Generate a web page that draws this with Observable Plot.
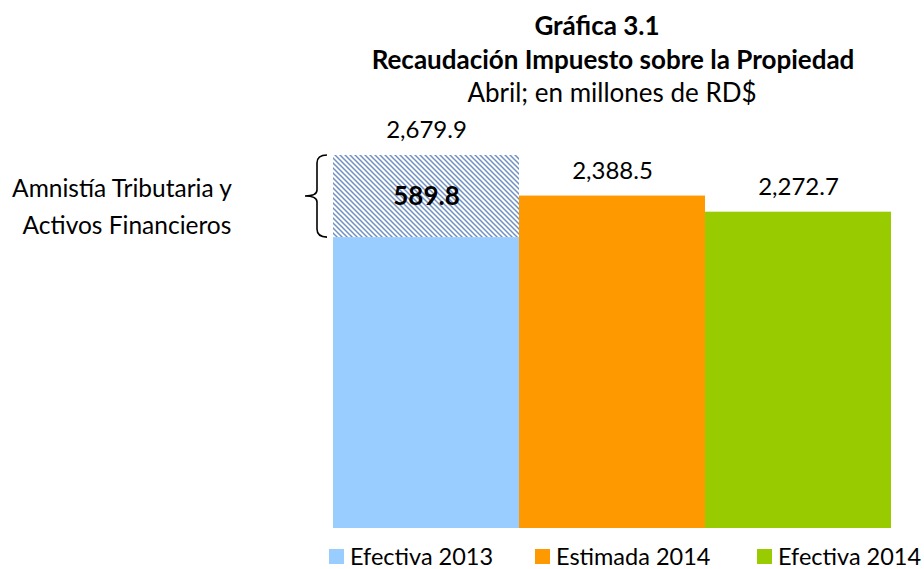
<!DOCTYPE html>
<html><head><meta charset="utf-8">
<script src="https://cdn.jsdelivr.net/npm/d3@7"></script>
<script src="https://cdn.jsdelivr.net/npm/@observablehq/plot@0.6"></script>
<style>
body{margin:0;background:#fff;font-family:Lato,"Noto Sans",sans-serif;color:#000;}
#root{position:relative;width:924px;height:569px;overflow:hidden;background:#fff;}
.t{position:absolute;width:0;white-space:nowrap;line-height:30px;z-index:2;}
.t > div{position:absolute;transform:translateX(-50%);}
#chart{position:absolute;left:0;top:100px;z-index:1;}
#legend{position:absolute;top:545px;left:0;width:924px;height:22px;font-size:23.5px;line-height:22px;z-index:2;}
.li{position:absolute;top:0;display:flex;align-items:center;height:22px;white-space:nowrap;}
.sw{width:15px;height:15px;margin-right:6px;flex:none;}
</style></head>
<body><div id="root">
<div class="t" style="top:10px;left:597px;"><div style="font-weight:bold;font-size:26px;">Gráfica 3.1</div></div>
<div class="t" style="top:44px;left:613px;"><div style="font-weight:bold;font-size:26px;">Recaudación Impuesto sobre la Propiedad</div></div>
<div class="t" style="top:77px;left:612px;"><div style="font-size:26px;">Abril; en millones de RD$</div></div>
<div id="chart"></div>
<div id="legend"></div>
</div>
<script>
const categories = ["Efectiva 2013", "Estimada 2014", "Efectiva 2014"];
const totals = [2679.9, 2388.5, 2272.7];
const amnistia = [589.8, 0, 0];
const colors = ["#99CCFF", "#FF9900", "#99CC00"];
const annotationLines = ["Amnistía Tributaria y", "Activos Financieros"];

const fmt = d3.format(",.1f");
const rows = categories.map((c, i) => ({cat: c, total: totals[i], extra: amnistia[i], base: totals[i] - amnistia[i]}));
const hatchRows = rows.filter(d => d.extra > 0);

const annotation = (index, scales, values, dims) => {
  const g = d3.create("svg:g");
  const r = hatchRows[0];
  const xl = scales.x(r.cat);
  const yT = scales.y(r.total), yB = scales.y(r.base);
  const ym = (yT + yB) / 2;
  const vx = xl - 16;
  g.append("path")
    .attr("fill", "none").attr("stroke", "#000").attr("stroke-width", 1.6)
    .attr("d", `M${xl-6},${yT} Q${vx},${yT} ${vx},${yT+8} L${vx},${ym-6} Q${vx},${ym} ${vx-12},${ym} Q${vx},${ym} ${vx},${ym+6} L${vx},${yB-8} Q${vx},${yB} ${xl-6},${yB}`);
  annotationLines.forEach((t, i) => {
    g.append("text").attr("x", xl - 211 + i * 5).attr("y", ym - 5 + i * 37)
      .attr("text-anchor", "middle").attr("dominant-baseline", "middle")
      .attr("font-size", 24.5).attr("fill", "#000").text(t);
  });
  return g.node();
};

const plot = Plot.plot({
  width: 924,
  height: 435,
  marginLeft: 333,
  marginRight: 33,
  marginTop: 55,
  marginBottom: 7,
  style: {fontFamily: "Lato, 'Noto Sans', sans-serif", background: "transparent", overflow: "visible"},
  x: {domain: categories, padding: 0, axis: null},
  y: {domain: [0, d3.max(totals)], axis: null},
  color: {domain: categories, range: colors},
  marks: [
    Plot.barY(rows, {x: "cat", y1: 0, y2: "base", fill: "cat"}),
    Plot.barY(hatchRows, {x: "cat", y1: "base", y2: "total", fill: "url(#hatch)"}),
    Plot.text(rows, {x: "cat", y: "total", text: d => fmt(d.total), dy: -25, fontSize: 24, fill: "#000"}),
    Plot.text(hatchRows, {x: "cat", y: d => (d.base + d.total) / 2, text: d => fmt(d.extra), fontSize: 26, fontWeight: "bold", fill: "#000"}),
    annotation
  ]
});

const defs = d3.select(plot).insert("defs", ":first-child");
const pat = defs.append("pattern").attr("id", "hatch").attr("patternUnits", "userSpaceOnUse")
  .attr("width", 5).attr("height", 5);
pat.append("rect").attr("width", 5).attr("height", 5).attr("fill", "#fff");
pat.append("path").attr("d", "M-1,-1 L6,6 M-1,4 L1,6 M4,-1 L6,1")
  .attr("stroke", "#7090C4").attr("stroke-width", 1.5);

document.getElementById("chart").appendChild(plot);

const legendPos = [329, 535, 757];
const legend = d3.select("#legend");
categories.forEach((c, i) => {
  const item = legend.append("div").attr("class", "li").style("left", legendPos[i] + "px");
  item.append("div").attr("class", "sw").style("background", colors[i]);
  item.append("span").text(c);
});
</script>
</body></html>
